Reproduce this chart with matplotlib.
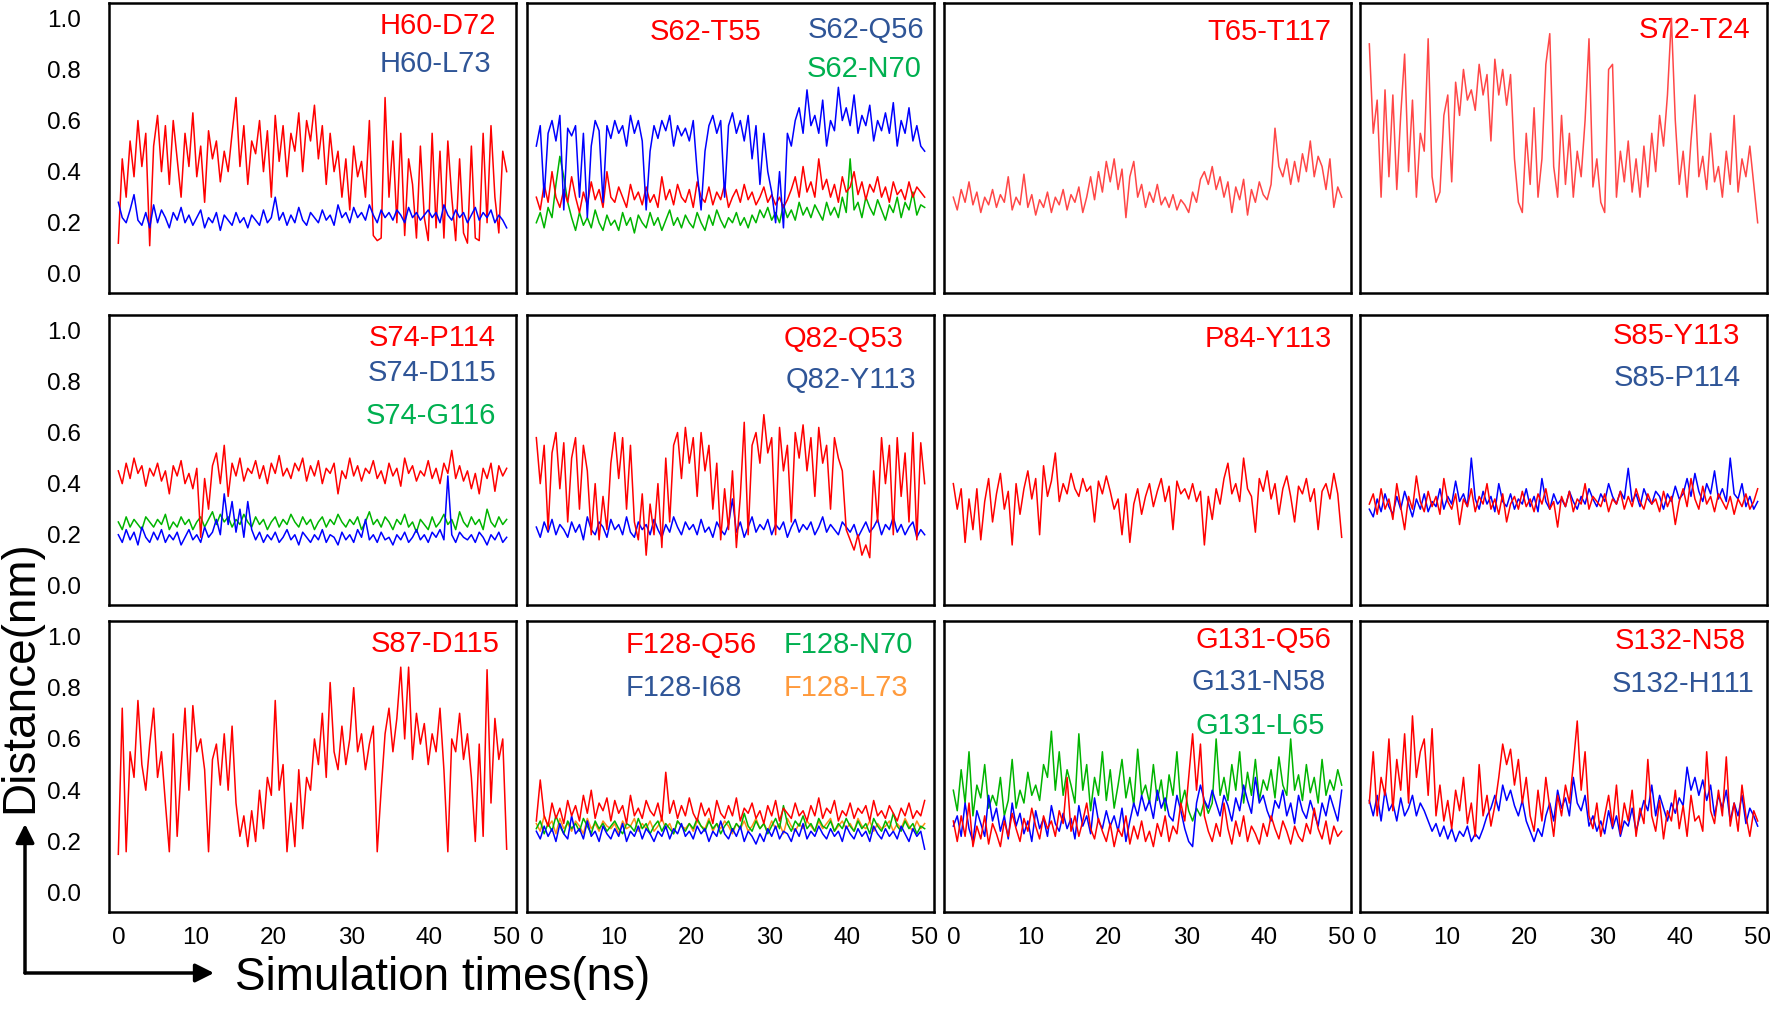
import numpy as np
import matplotlib
matplotlib.use("Agg")
import matplotlib.pyplot as plt
from matplotlib.patches import FancyArrowPatch
from matplotlib.transforms import IdentityTransform

plt.rcParams['font.family'] = ['Liberation Sans', 'DejaVu Sans']

# distances (nm) over 0-50 ns, 0.5 ns apart
h60_d72 = [0.12, 0.45, 0.30, 0.52, 0.38, 0.60, 0.42, 0.55, 0.11, 0.50,
           0.62, 0.40, 0.58, 0.35, 0.60, 0.45, 0.30, 0.55, 0.42, 0.63,
           0.38, 0.50, 0.28, 0.56, 0.45, 0.52, 0.36, 0.48, 0.40, 0.55,
           0.69, 0.42, 0.58, 0.35, 0.52, 0.47, 0.60, 0.40, 0.56, 0.30,
           0.62, 0.44, 0.58, 0.38, 0.55, 0.48, 0.63, 0.40, 0.60, 0.52,
           0.66, 0.45, 0.58, 0.35, 0.55, 0.40, 0.48, 0.30, 0.45, 0.25,
           0.50, 0.38, 0.44, 0.30, 0.60, 0.15, 0.13, 0.14, 0.69, 0.30,
           0.52, 0.20, 0.55, 0.15, 0.45, 0.35, 0.14, 0.50, 0.22, 0.13,
           0.55, 0.18, 0.48, 0.14, 0.52, 0.30, 0.13, 0.45, 0.16, 0.12,
           0.50, 0.14, 0.13, 0.55, 0.20, 0.58, 0.30, 0.16, 0.48, 0.40]
h60_l73 = [0.28, 0.22, 0.20, 0.25, 0.31, 0.21, 0.19, 0.24, 0.18, 0.27,
           0.20, 0.25, 0.22, 0.18, 0.24, 0.21, 0.26, 0.20, 0.23, 0.19,
           0.22, 0.25, 0.18, 0.22, 0.20, 0.24, 0.17, 0.23, 0.21, 0.19,
           0.24, 0.20, 0.22, 0.18, 0.23, 0.21, 0.19, 0.25, 0.20, 0.22,
           0.30, 0.21, 0.24, 0.19, 0.23, 0.20, 0.26, 0.21, 0.19, 0.24,
           0.22, 0.20, 0.25, 0.21, 0.23, 0.19, 0.27, 0.22, 0.24, 0.20,
           0.26, 0.22, 0.24, 0.21, 0.27, 0.23, 0.20, 0.25, 0.22, 0.24,
           0.21, 0.25, 0.23, 0.20, 0.26, 0.22, 0.24, 0.21, 0.23, 0.25,
           0.22, 0.24, 0.20, 0.27, 0.23, 0.21, 0.25, 0.22, 0.24, 0.20,
           0.23, 0.26, 0.21, 0.24, 0.22, 0.25, 0.20, 0.23, 0.21, 0.18]

s62_t55 = [0.30, 0.25, 0.35, 0.28, 0.40, 0.30, 0.26, 0.33, 0.28, 0.38,
           0.30, 0.24, 0.32, 0.27, 0.36, 0.29, 0.33, 0.26, 0.40, 0.30,
           0.28, 0.34, 0.30, 0.26, 0.35, 0.29, 0.32, 0.27, 0.34, 0.28,
           0.31, 0.26, 0.38, 0.29, 0.33, 0.27, 0.35, 0.30, 0.28, 0.33,
           0.26, 0.36, 0.30, 0.28, 0.34, 0.27, 0.32, 0.29, 0.35, 0.26,
           0.30, 0.33, 0.28, 0.35, 0.29, 0.32, 0.27, 0.30, 0.34, 0.28,
           0.31, 0.27, 0.30, 0.26, 0.29, 0.33, 0.38, 0.30, 0.42, 0.32,
           0.36, 0.30, 0.45, 0.33, 0.37, 0.30, 0.35, 0.28, 0.38, 0.32,
           0.34, 0.40, 0.31, 0.36, 0.29, 0.35, 0.32, 0.38, 0.30, 0.34,
           0.28, 0.36, 0.31, 0.33, 0.29, 0.36, 0.30, 0.34, 0.32, 0.30]
s62_q56 = [0.50, 0.58, 0.30, 0.55, 0.60, 0.52, 0.62, 0.25, 0.57, 0.54,
           0.58, 0.30, 0.55, 0.22, 0.50, 0.60, 0.56, 0.28, 0.58, 0.53,
           0.60, 0.55, 0.58, 0.50, 0.62, 0.55, 0.60, 0.52, 0.25, 0.48,
           0.58, 0.53, 0.60, 0.56, 0.62, 0.50, 0.58, 0.54, 0.57, 0.52,
           0.60, 0.40, 0.25, 0.48, 0.58, 0.62, 0.55, 0.60, 0.30, 0.58,
           0.63, 0.55, 0.60, 0.52, 0.62, 0.45, 0.58, 0.35, 0.55, 0.40,
           0.32, 0.20, 0.40, 0.18, 0.55, 0.50, 0.60, 0.65, 0.55, 0.72,
           0.58, 0.62, 0.55, 0.68, 0.50, 0.60, 0.56, 0.73, 0.60, 0.65,
           0.58, 0.70, 0.55, 0.62, 0.58, 0.66, 0.52, 0.60, 0.56, 0.63,
           0.55, 0.67, 0.50, 0.60, 0.55, 0.65, 0.52, 0.58, 0.50, 0.48]
s62_n70 = [0.20, 0.24, 0.18, 0.26, 0.22, 0.35, 0.46, 0.38, 0.28, 0.22,
           0.17, 0.24, 0.19, 0.22, 0.18, 0.25, 0.20, 0.17, 0.23, 0.19,
           0.21, 0.17, 0.24, 0.19, 0.22, 0.16, 0.23, 0.20, 0.18, 0.24,
           0.19, 0.22, 0.17, 0.21, 0.25, 0.19, 0.22, 0.18, 0.23, 0.20,
           0.18, 0.24, 0.20, 0.17, 0.23, 0.19, 0.25, 0.21, 0.18, 0.22,
           0.20, 0.24, 0.19, 0.22, 0.18, 0.23, 0.20, 0.25, 0.22, 0.26,
           0.21, 0.24, 0.20, 0.27, 0.22, 0.25, 0.21, 0.28, 0.23, 0.26,
           0.22, 0.27, 0.24, 0.21, 0.28, 0.23, 0.26, 0.22, 0.30, 0.24,
           0.45, 0.25, 0.28, 0.22, 0.30, 0.26, 0.23, 0.29, 0.25, 0.21,
           0.27, 0.24, 0.30, 0.22, 0.28, 0.25, 0.32, 0.23, 0.27, 0.26]

t65_t117 = [0.30, 0.25, 0.33, 0.28, 0.36, 0.27, 0.32, 0.24, 0.30, 0.27,
            0.33, 0.26, 0.31, 0.28, 0.38, 0.25, 0.30, 0.27, 0.39, 0.26,
            0.31, 0.23, 0.29, 0.26, 0.32, 0.24, 0.30, 0.27, 0.33, 0.25,
            0.31, 0.28, 0.34, 0.24, 0.30, 0.38, 0.29, 0.40, 0.32, 0.44,
            0.36, 0.45, 0.33, 0.41, 0.22, 0.38, 0.44, 0.30, 0.35, 0.26,
            0.32, 0.28, 0.35, 0.27, 0.30, 0.26, 0.31, 0.25, 0.29, 0.27,
            0.24, 0.32, 0.28, 0.37, 0.40, 0.35, 0.42, 0.33, 0.38, 0.30,
            0.36, 0.24, 0.34, 0.29, 0.37, 0.23, 0.33, 0.28, 0.36, 0.31,
            0.29, 0.35, 0.57, 0.42, 0.38, 0.45, 0.35, 0.44, 0.36, 0.47,
            0.40, 0.52, 0.38, 0.46, 0.42, 0.33, 0.45, 0.26, 0.34, 0.30]

s72_t24 = [0.90, 0.55, 0.68, 0.30, 0.72, 0.38, 0.70, 0.33, 0.62, 0.86,
           0.40, 0.68, 0.30, 0.55, 0.48, 0.92, 0.38, 0.28, 0.32, 0.62,
           0.70, 0.36, 0.75, 0.62, 0.80, 0.68, 0.72, 0.64, 0.82, 0.70,
           0.78, 0.52, 0.84, 0.70, 0.80, 0.66, 0.78, 0.45, 0.28, 0.24,
           0.55, 0.35, 0.65, 0.30, 0.45, 0.82, 0.94, 0.42, 0.30, 0.62,
           0.35, 0.55, 0.30, 0.48, 0.38, 0.60, 0.92, 0.34, 0.45, 0.28,
           0.24, 0.80, 0.82, 0.30, 0.48, 0.36, 0.52, 0.32, 0.45, 0.30,
           0.50, 0.34, 0.55, 0.40, 0.62, 0.50, 0.70, 1.00, 0.60, 0.35,
           0.48, 0.30, 0.52, 0.70, 0.38, 0.46, 0.33, 0.55, 0.36, 0.42,
           0.30, 0.48, 0.35, 0.62, 0.32, 0.45, 0.38, 0.50, 0.35, 0.20]

s74_p114 = [0.45, 0.40, 0.48, 0.42, 0.50, 0.44, 0.47, 0.39, 0.46, 0.43,
            0.48, 0.41, 0.45, 0.36, 0.47, 0.43, 0.49, 0.40, 0.44, 0.38,
            0.46, 0.19, 0.42, 0.30, 0.47, 0.52, 0.40, 0.55, 0.35, 0.48,
            0.43, 0.50, 0.41, 0.46, 0.44, 0.49, 0.42, 0.47, 0.40, 0.48,
            0.44, 0.51, 0.43, 0.46, 0.42, 0.48, 0.45, 0.50, 0.41, 0.47,
            0.43, 0.49, 0.40, 0.46, 0.44, 0.48, 0.36, 0.45, 0.42, 0.50,
            0.43, 0.47, 0.41, 0.46, 0.44, 0.49, 0.42, 0.45, 0.40, 0.48,
            0.43, 0.46, 0.39, 0.50, 0.44, 0.47, 0.41, 0.45, 0.43, 0.49,
            0.42, 0.46, 0.40, 0.48, 0.44, 0.53, 0.42, 0.47, 0.41, 0.45,
            0.38, 0.44, 0.36, 0.46, 0.42, 0.48, 0.37, 0.47, 0.43, 0.46]
s74_d115 = [0.20, 0.17, 0.22, 0.18, 0.21, 0.16, 0.23, 0.19, 0.17, 0.21,
            0.18, 0.22, 0.17, 0.20, 0.18, 0.21, 0.16, 0.19, 0.22, 0.18,
            0.20, 0.17, 0.23, 0.19, 0.21, 0.26, 0.20, 0.36, 0.24, 0.33,
            0.21, 0.30, 0.19, 0.33, 0.22, 0.18, 0.21, 0.17, 0.20, 0.18,
            0.21, 0.17, 0.19, 0.22, 0.18, 0.20, 0.16, 0.21, 0.19, 0.17,
            0.20, 0.18, 0.22, 0.17, 0.20, 0.19, 0.16, 0.21, 0.18, 0.20,
            0.17, 0.22, 0.19, 0.26, 0.18, 0.20, 0.17, 0.21, 0.18, 0.19,
            0.16, 0.20, 0.18, 0.21, 0.17, 0.19, 0.22, 0.18, 0.20, 0.17,
            0.21, 0.19, 0.22, 0.18, 0.43, 0.20, 0.17, 0.21, 0.19, 0.18,
            0.20, 0.17, 0.21, 0.19, 0.16, 0.20, 0.18, 0.21, 0.17, 0.19]
s74_g116 = [0.25, 0.22, 0.27, 0.23, 0.26, 0.24, 0.22, 0.27, 0.25, 0.23,
            0.26, 0.24, 0.28, 0.22, 0.25, 0.23, 0.27, 0.24, 0.26, 0.22,
            0.25, 0.27, 0.23, 0.26, 0.29, 0.24, 0.28, 0.25, 0.27, 0.23,
            0.26, 0.24, 0.28, 0.25, 0.23, 0.27, 0.24, 0.26, 0.22, 0.25,
            0.27, 0.23, 0.26, 0.24, 0.28, 0.25, 0.23, 0.27, 0.24, 0.26,
            0.22, 0.25, 0.27, 0.23, 0.26, 0.24, 0.28, 0.25, 0.23, 0.26,
            0.24, 0.27, 0.22, 0.25, 0.29, 0.24, 0.26, 0.23, 0.27, 0.25,
            0.22, 0.26, 0.24, 0.28, 0.23, 0.25, 0.21, 0.26, 0.24, 0.22,
            0.27, 0.23, 0.25, 0.28, 0.24, 0.26, 0.22, 0.29, 0.25, 0.23,
            0.27, 0.24, 0.26, 0.22, 0.30, 0.25, 0.23, 0.27, 0.24, 0.26]

q82_q53 = [0.58, 0.40, 0.55, 0.22, 0.52, 0.60, 0.38, 0.56, 0.25, 0.50,
           0.58, 0.30, 0.55, 0.45, 0.20, 0.40, 0.18, 0.35, 0.22, 0.48,
           0.60, 0.42, 0.58, 0.30, 0.55, 0.25, 0.18, 0.36, 0.12, 0.32,
           0.20, 0.40, 0.15, 0.50, 0.25, 0.55, 0.60, 0.42, 0.62, 0.48,
           0.58, 0.35, 0.60, 0.45, 0.55, 0.30, 0.48, 0.18, 0.38, 0.22,
           0.45, 0.15, 0.35, 0.64, 0.20, 0.55, 0.60, 0.48, 0.67, 0.52,
           0.58, 0.20, 0.62, 0.45, 0.55, 0.25, 0.60, 0.50, 0.63, 0.45,
           0.58, 0.35, 0.62, 0.48, 0.55, 0.30, 0.58, 0.50, 0.45, 0.22,
           0.18, 0.14, 0.20, 0.12, 0.16, 0.11, 0.45, 0.25, 0.58, 0.40,
           0.55, 0.20, 0.58, 0.35, 0.52, 0.25, 0.60, 0.18, 0.56, 0.40]
q82_y113 = [0.23, 0.19, 0.25, 0.21, 0.26, 0.20, 0.24, 0.22, 0.19, 0.25,
            0.21, 0.24, 0.18, 0.27, 0.22, 0.20, 0.25, 0.23, 0.19, 0.26,
            0.22, 0.24, 0.20, 0.27, 0.21, 0.19, 0.25, 0.22, 0.24, 0.20,
            0.26, 0.22, 0.19, 0.24, 0.21, 0.27, 0.23, 0.20, 0.25, 0.22,
            0.24, 0.20, 0.26, 0.21, 0.23, 0.19, 0.25, 0.22, 0.20, 0.24,
            0.34, 0.21, 0.25, 0.19, 0.23, 0.27, 0.21, 0.24, 0.22, 0.26,
            0.20, 0.24, 0.22, 0.25, 0.19, 0.23, 0.26, 0.21, 0.24, 0.22,
            0.25, 0.20, 0.23, 0.27, 0.21, 0.24, 0.22, 0.20, 0.25, 0.23,
            0.21, 0.24, 0.19, 0.22, 0.25, 0.21, 0.23, 0.26, 0.20, 0.24,
            0.22, 0.27, 0.21, 0.24, 0.20, 0.23, 0.25, 0.19, 0.22, 0.20]

p84_y113 = [0.40, 0.30, 0.38, 0.17, 0.34, 0.22, 0.38, 0.18, 0.33, 0.42,
            0.25, 0.36, 0.44, 0.30, 0.37, 0.16, 0.40, 0.28, 0.38, 0.45,
            0.34, 0.42, 0.20, 0.47, 0.35, 0.41, 0.52, 0.33, 0.40, 0.36,
            0.44, 0.38, 0.35, 0.42, 0.37, 0.39, 0.25, 0.41, 0.36, 0.43,
            0.37, 0.30, 0.34, 0.20, 0.36, 0.17, 0.32, 0.38, 0.28, 0.35,
            0.40, 0.31, 0.37, 0.42, 0.33, 0.39, 0.22, 0.41, 0.36, 0.38,
            0.34, 0.40, 0.33, 0.37, 0.16, 0.35, 0.26, 0.38, 0.32, 0.42,
            0.48, 0.36, 0.40, 0.33, 0.50, 0.38, 0.35, 0.21, 0.42, 0.37,
            0.45, 0.34, 0.40, 0.28, 0.38, 0.43, 0.35, 0.25, 0.39, 0.36,
            0.42, 0.33, 0.38, 0.22, 0.37, 0.40, 0.34, 0.44, 0.36, 0.19]

s85_y113 = [0.32, 0.36, 0.28, 0.38, 0.30, 0.34, 0.26, 0.40, 0.31, 0.22,
            0.35, 0.30, 0.43, 0.33, 0.29, 0.37, 0.31, 0.35, 0.28, 0.42,
            0.33, 0.30, 0.36, 0.24, 0.34, 0.31, 0.38, 0.29, 0.35, 0.32,
            0.40, 0.30, 0.34, 0.28, 0.36, 0.25, 0.32, 0.35, 0.30, 0.37,
            0.31, 0.34, 0.29, 0.36, 0.32, 0.38, 0.30, 0.33, 0.23, 0.35,
            0.31, 0.37, 0.29, 0.34, 0.32, 0.40, 0.30, 0.35, 0.33, 0.31,
            0.36, 0.29, 0.34, 0.32, 0.37, 0.30, 0.35, 0.31, 0.38, 0.33,
            0.30, 0.36, 0.32, 0.34, 0.29, 0.37, 0.31, 0.35, 0.24, 0.33,
            0.38, 0.31, 0.42, 0.34, 0.30, 0.39, 0.32, 0.35, 0.29, 0.36,
            0.33, 0.30, 0.35, 0.28, 0.34, 0.31, 0.36, 0.30, 0.33, 0.38]
s85_p114 = [0.30, 0.27, 0.34, 0.29, 0.36, 0.31, 0.28, 0.35, 0.30, 0.37,
            0.32, 0.27, 0.34, 0.30, 0.36, 0.29, 0.33, 0.31, 0.38, 0.30,
            0.35, 0.32, 0.41, 0.33, 0.36, 0.31, 0.50, 0.34, 0.30, 0.37,
            0.32, 0.35, 0.29, 0.40, 0.33, 0.31, 0.36, 0.30, 0.34, 0.32,
            0.38, 0.31, 0.35, 0.29, 0.42, 0.33, 0.30, 0.36, 0.32, 0.34,
            0.31, 0.37, 0.33, 0.30, 0.35, 0.32, 0.38, 0.34, 0.31, 0.36,
            0.33, 0.40, 0.35, 0.32, 0.37, 0.34, 0.46, 0.33, 0.36, 0.31,
            0.38, 0.34, 0.32, 0.37, 0.35, 0.30, 0.36, 0.33, 0.39, 0.34,
            0.36, 0.42, 0.35, 0.44, 0.37, 0.33, 0.40, 0.36, 0.45, 0.34,
            0.38, 0.33, 0.50, 0.36, 0.34, 0.40, 0.31, 0.35, 0.30, 0.33]

s87_d115 = [0.15, 0.72, 0.16, 0.55, 0.45, 0.75, 0.50, 0.40, 0.58, 0.72,
            0.45, 0.55, 0.35, 0.16, 0.62, 0.22, 0.48, 0.72, 0.40, 0.73,
            0.55, 0.60, 0.48, 0.16, 0.52, 0.58, 0.42, 0.62, 0.40, 0.65,
            0.35, 0.22, 0.30, 0.18, 0.32, 0.20, 0.40, 0.25, 0.45, 0.38,
            0.75, 0.40, 0.50, 0.16, 0.35, 0.18, 0.48, 0.25, 0.45, 0.40,
            0.60, 0.50, 0.70, 0.45, 0.82, 0.55, 0.48, 0.65, 0.50, 0.60,
            0.80, 0.55, 0.62, 0.48, 0.58, 0.65, 0.16, 0.40, 0.62, 0.72,
            0.55, 0.68, 0.88, 0.60, 0.88, 0.52, 0.70, 0.58, 0.66, 0.50,
            0.62, 0.55, 0.72, 0.48, 0.16, 0.60, 0.55, 0.70, 0.52, 0.62,
            0.45, 0.20, 0.58, 0.22, 0.87, 0.35, 0.68, 0.52, 0.60, 0.17]

f128_q56 = [0.28, 0.44, 0.30, 0.26, 0.35, 0.29, 0.33, 0.27, 0.36, 0.30,
            0.34, 0.28, 0.38, 0.31, 0.40, 0.29, 0.35, 0.32, 0.37, 0.28,
            0.36, 0.31, 0.34, 0.27, 0.38, 0.30, 0.33, 0.29, 0.36, 0.32,
            0.30, 0.35, 0.28, 0.47, 0.31, 0.36, 0.29, 0.34, 0.30, 0.37,
            0.31, 0.28, 0.35, 0.30, 0.33, 0.27, 0.36, 0.31, 0.29, 0.34,
            0.30, 0.37, 0.28, 0.33, 0.31, 0.35, 0.29, 0.32, 0.27, 0.34,
            0.30, 0.36, 0.28, 0.33, 0.31, 0.29, 0.35, 0.30, 0.32, 0.28,
            0.34, 0.30, 0.37, 0.29, 0.33, 0.31, 0.36, 0.28, 0.32, 0.30,
            0.35, 0.29, 0.33, 0.31, 0.34, 0.28, 0.36, 0.30, 0.32, 0.29,
            0.34, 0.31, 0.28, 0.33, 0.30, 0.35, 0.29, 0.32, 0.30, 0.36]
f128_n70 = [0.25, 0.28, 0.23, 0.27, 0.24, 0.30, 0.26, 0.23, 0.28, 0.25,
            0.27, 0.24, 0.29, 0.26, 0.23, 0.28, 0.25, 0.27, 0.24, 0.26,
            0.28, 0.25, 0.23, 0.27, 0.26, 0.24, 0.29, 0.25, 0.27, 0.23,
            0.26, 0.28, 0.24, 0.27, 0.25, 0.23, 0.28, 0.26, 0.24, 0.27,
            0.25, 0.29, 0.26, 0.24, 0.28, 0.25, 0.27, 0.23, 0.26, 0.28,
            0.24, 0.27, 0.25, 0.31, 0.26, 0.24, 0.28, 0.25, 0.27, 0.23,
            0.26, 0.29, 0.25, 0.34, 0.27, 0.24, 0.28, 0.26, 0.30, 0.25,
            0.27, 0.24, 0.29, 0.26, 0.25, 0.28, 0.24, 0.27, 0.25, 0.29,
            0.26, 0.24, 0.28, 0.25, 0.27, 0.23, 0.29, 0.26, 0.24, 0.28,
            0.25, 0.31, 0.26, 0.24, 0.28, 0.25, 0.27, 0.23, 0.26, 0.25]
f128_l73 = [0.27, 0.24, 0.30, 0.26, 0.28, 0.23, 0.29, 0.25, 0.27, 0.24,
            0.28, 0.26, 0.23, 0.29, 0.25, 0.27, 0.24, 0.28, 0.26, 0.25,
            0.27, 0.23, 0.28, 0.25, 0.26, 0.29, 0.24, 0.27, 0.25, 0.28,
            0.24, 0.26, 0.29, 0.25, 0.27, 0.23, 0.28, 0.26, 0.25, 0.27,
            0.24, 0.28, 0.26, 0.25, 0.29, 0.24, 0.27, 0.25, 0.28, 0.26,
            0.23, 0.27, 0.25, 0.28, 0.24, 0.26, 0.29, 0.25, 0.27, 0.24,
            0.28, 0.25, 0.27, 0.23, 0.29, 0.26, 0.24, 0.27, 0.25, 0.28,
            0.26, 0.24, 0.28, 0.25, 0.27, 0.29, 0.24, 0.26, 0.28, 0.25,
            0.27, 0.24, 0.29, 0.26, 0.25, 0.28, 0.24, 0.27, 0.25, 0.26,
            0.28, 0.24, 0.27, 0.25, 0.29, 0.26, 0.24, 0.28, 0.25, 0.27]
f128_i68 = [0.24, 0.21, 0.26, 0.22, 0.25, 0.20, 0.27, 0.23, 0.21, 0.30,
            0.23, 0.25, 0.21, 0.28, 0.22, 0.24, 0.20, 0.26, 0.23, 0.21,
            0.25, 0.22, 0.27, 0.20, 0.24, 0.22, 0.26, 0.21, 0.25, 0.23,
            0.20, 0.24, 0.22, 0.26, 0.21, 0.25, 0.23, 0.27, 0.22, 0.24,
            0.21, 0.26, 0.23, 0.25, 0.20, 0.24, 0.22, 0.28, 0.23, 0.21,
            0.25, 0.22, 0.26, 0.20, 0.24, 0.22, 0.19, 0.23, 0.20, 0.25,
            0.22, 0.26, 0.21, 0.24, 0.23, 0.20, 0.25, 0.22, 0.27, 0.21,
            0.24, 0.22, 0.26, 0.23, 0.21, 0.25, 0.22, 0.24, 0.20, 0.26,
            0.23, 0.21, 0.25, 0.22, 0.24, 0.20, 0.26, 0.23, 0.21, 0.25,
            0.22, 0.24, 0.21, 0.26, 0.23, 0.20, 0.25, 0.22, 0.24, 0.17]

g131_q56 = [0.28, 0.20, 0.30, 0.22, 0.35, 0.18, 0.26, 0.21, 0.30, 0.19,
            0.27, 0.23, 0.18, 0.28, 0.22, 0.31, 0.25, 0.20, 0.29, 0.24,
            0.33, 0.26, 0.21, 0.30, 0.25, 0.28, 0.22, 0.32, 0.27, 0.45,
            0.24, 0.30, 0.22, 0.28, 0.35, 0.25, 0.21, 0.29, 0.24, 0.20,
            0.27, 0.18, 0.25, 0.22, 0.30, 0.19, 0.26, 0.21, 0.28, 0.20,
            0.24, 0.18, 0.27, 0.22, 0.30, 0.20, 0.26, 0.23, 0.35, 0.28,
            0.45, 0.62, 0.40, 0.58, 0.30, 0.24, 0.20, 0.27, 0.22, 0.35,
            0.25, 0.19, 0.28, 0.22, 0.30, 0.20, 0.26, 0.23, 0.19, 0.27,
            0.22, 0.30, 0.25, 0.21, 0.28, 0.24, 0.19, 0.26, 0.22, 0.20,
            0.27, 0.23, 0.33, 0.25, 0.21, 0.28, 0.19, 0.26, 0.22, 0.24]
g131_n58 = [0.26, 0.30, 0.22, 0.35, 0.25, 0.20, 0.32, 0.27, 0.22, 0.38,
            0.28, 0.33, 0.24, 0.30, 0.21, 0.35, 0.26, 0.31, 0.23, 0.28,
            0.20, 0.32, 0.25, 0.29, 0.22, 0.34, 0.27, 0.24, 0.31, 0.25,
            0.29, 0.21, 0.34, 0.26, 0.30, 0.23, 0.37, 0.28, 0.25, 0.32,
            0.26, 0.30, 0.24, 0.33, 0.20, 0.28, 0.35, 0.30, 0.38, 0.32,
            0.36, 0.29, 0.40, 0.33, 0.37, 0.30, 0.28, 0.38, 0.32, 0.25,
            0.20, 0.18, 0.35, 0.42, 0.36, 0.33, 0.40, 0.35, 0.30, 0.38,
            0.34, 0.28, 0.37, 0.32, 0.42, 0.36, 0.31, 0.45, 0.35, 0.38,
            0.32, 0.28, 0.36, 0.33, 0.40, 0.30, 0.35, 0.27, 0.38, 0.32,
            0.29, 0.36, 0.31, 0.26, 0.35, 0.30, 0.38, 0.33, 0.28, 0.40]
g131_l65 = [0.40, 0.32, 0.48, 0.35, 0.55, 0.30, 0.42, 0.37, 0.50, 0.33,
            0.38, 0.34, 0.45, 0.30, 0.36, 0.52, 0.33, 0.40, 0.35, 0.47,
            0.38, 0.42, 0.36, 0.50, 0.45, 0.63, 0.40, 0.55, 0.38, 0.48,
            0.42, 0.35, 0.62, 0.40, 0.50, 0.32, 0.45, 0.38, 0.55, 0.36,
            0.48, 0.33, 0.42, 0.52, 0.37, 0.45, 0.34, 0.56, 0.38, 0.42,
            0.35, 0.50, 0.36, 0.44, 0.32, 0.46, 0.38, 0.55, 0.34, 0.40,
            0.32, 0.28, 0.33, 0.30, 0.36, 0.31, 0.35, 0.60, 0.38, 0.45,
            0.36, 0.50, 0.40, 0.55, 0.35, 0.47, 0.38, 0.52, 0.36, 0.44,
            0.40, 0.48, 0.37, 0.53, 0.42, 0.38, 0.60, 0.40, 0.46, 0.36,
            0.50, 0.39, 0.45, 0.35, 0.52, 0.38, 0.44, 0.40, 0.48, 0.42]

s132_n58 = [0.35, 0.55, 0.30, 0.45, 0.38, 0.60, 0.32, 0.52, 0.40, 0.62,
            0.35, 0.69, 0.45, 0.55, 0.60, 0.38, 0.64, 0.30, 0.42, 0.28,
            0.36, 0.25, 0.40, 0.32, 0.45, 0.27, 0.35, 0.22, 0.50, 0.30,
            0.38, 0.26, 0.34, 0.45, 0.58, 0.50, 0.56, 0.42, 0.52, 0.35,
            0.45, 0.30, 0.24, 0.40, 0.28, 0.45, 0.33, 0.22, 0.38, 0.30,
            0.42, 0.35, 0.50, 0.67, 0.40, 0.55, 0.30, 0.25, 0.35, 0.22,
            0.30, 0.38, 0.26, 0.42, 0.23, 0.35, 0.28, 0.40, 0.22, 0.33,
            0.27, 0.52, 0.30, 0.24, 0.36, 0.21, 0.32, 0.28, 0.40, 0.25,
            0.34, 0.22, 0.38, 0.28, 0.30, 0.24, 0.55, 0.32, 0.27, 0.40,
            0.30, 0.53, 0.26, 0.35, 0.24, 0.42, 0.30, 0.22, 0.32, 0.28]
s132_h111 = [0.36, 0.30, 0.38, 0.28, 0.40, 0.32, 0.35, 0.28, 0.37, 0.30,
             0.33, 0.38, 0.30, 0.35, 0.32, 0.28, 0.24, 0.27, 0.22, 0.26,
             0.21, 0.25, 0.20, 0.24, 0.22, 0.26, 0.20, 0.23, 0.21, 0.25,
             0.30, 0.33, 0.38, 0.32, 0.42, 0.36, 0.40, 0.34, 0.30, 0.36,
             0.28, 0.24, 0.20, 0.25, 0.22, 0.30, 0.35, 0.28, 0.40, 0.33,
             0.37, 0.30, 0.45, 0.35, 0.32, 0.38, 0.26, 0.30, 0.24, 0.28,
             0.23, 0.32, 0.25, 0.30, 0.22, 0.28, 0.26, 0.33, 0.24, 0.30,
             0.36, 0.32, 0.42, 0.30, 0.38, 0.33, 0.28, 0.35, 0.31, 0.37,
             0.34, 0.49, 0.40, 0.45, 0.38, 0.44, 0.36, 0.42, 0.30, 0.38,
             0.33, 0.40, 0.28, 0.35, 0.30, 0.38, 0.27, 0.33, 0.30, 0.26]

RED, BLUE, GREEN, ORANGE, PINK = "#ff0000", "#0000ff", "#00b400", "#ff8c1a", "#ff4747"
T_RED, T_BLUE, T_GREEN, T_ORANGE = "#ff0000", "#2f5597", "#00b050", "#ff9a3c"

# each panel: list of (series, line colour) in drawing order, then labels
panels = [
    ([(h60_d72, RED), (h60_l73, BLUE)],
     [("H60-D72", T_RED, 0.952, 0.92, "right"), ("H60-L73", T_BLUE, 0.94, 0.79, "right")]),
    ([(s62_n70, GREEN), (s62_t55, RED), (s62_q56, BLUE)],
     [("S62-T55", T_RED, 0.577, 0.90, "right"), ("S62-Q56", T_BLUE, 0.975, 0.906, "right"),
      ("S62-N70", T_GREEN, 0.97, 0.774, "right")]),
    ([(t65_t117, PINK)], [("T65-T117", T_RED, 0.952, 0.90, "right")]),
    ([(s72_t24, PINK)], [("S72-T24", T_RED, 0.96, 0.906, "right")]),
    ([(s74_g116, GREEN), (s74_d115, BLUE), (s74_p114, RED)],
     [("S74-P114", T_RED, 0.951, 0.92, "right"), ("S74-D115", T_BLUE, 0.951, 0.80, "right"),
      ("S74-G116", T_GREEN, 0.951, 0.65, "right")]),
    ([(q82_y113, BLUE), (q82_q53, RED)],
     [("Q82-Q53", T_RED, 0.925, 0.916, "right"), ("Q82-Y113", T_BLUE, 0.957, 0.777, "right")]),
    ([(p84_y113, RED)], [("P84-Y113", T_RED, 0.952, 0.916, "right")]),
    ([(s85_p114, BLUE), (s85_y113, RED)],
     [("S85-Y113", T_RED, 0.935, 0.927, "right"), ("S85-P114", T_BLUE, 0.935, 0.783, "right")]),
    ([(s87_d115, RED)], [("S87-D115", T_RED, 0.96, 0.922, "right")]),
    ([(f128_l73, ORANGE), (f128_n70, GREEN), (f128_i68, BLUE), (f128_q56, RED)],
     [("F128-Q56", T_RED, 0.243, 0.916, "left"), ("F128-N70", T_GREEN, 0.63, 0.916, "left"),
      ("F128-I68", T_BLUE, 0.243, 0.77, "left"), ("F128-L73", T_ORANGE, 0.63, 0.77, "left")]),
    ([(g131_l65, GREEN), (g131_n58, BLUE), (g131_q56, RED)],
     [("G131-Q56", T_RED, 0.952, 0.934, "right"), ("G131-N58", T_BLUE, 0.937, 0.79, "right"),
      ("G131-L65", T_GREEN, 0.935, 0.64, "right")]),
    ([(s132_h111, BLUE), (s132_n58, RED)],
     [("S132-N58", T_RED, 0.947, 0.93, "right"), ("S132-H111", T_BLUE, 0.968, 0.785, "right")]),
]

W, H = 1770, 1009
fig = plt.figure(figsize=(W / 100, H / 100), dpi=100)

col_x = [(109, 516), (527, 934), (944, 1351), (1360, 1767)]
row_y = [(3, 293), (315, 605), (621, 912)]

for i, (series, labels) in enumerate(panels):
    r, c = divmod(i, 4)
    x0, x1 = col_x[c]
    y0, y1 = row_y[r]
    ax = fig.add_axes([x0 / W, 1 - y1 / H, (x1 - x0) / W, (y1 - y0) / H])
    for vals, col in series:
        t = np.linspace(0, 50, len(vals))
        ax.plot(t, vals, color=col, lw=1.1)
    for txt, col, tx, ty, ha in labels:
        ax.text(tx, ty, txt, color=col, fontsize=21, ha=ha, va="center",
                transform=ax.transAxes, zorder=0)
    ax.set_xlim(-1.2, 51.2)
    ax.set_ylim(-0.075, 1.06)
    ax.set_xticks([0, 10, 20, 30, 40, 50])
    ax.set_yticks([0.0, 0.2, 0.4, 0.6, 0.8, 1.0])
    ax.tick_params(axis="x", length=0, labelsize=17.5, pad=11)
    ax.tick_params(axis="y", length=0, labelsize=17.5, pad=20)
    ax.yaxis.set_major_formatter(matplotlib.ticker.FormatStrFormatter("%.1f"))
    if c != 0:
        ax.set_yticklabels([])
    if r != 2:
        ax.set_xticklabels([])
    for s in ax.spines.values():
        s.set_linewidth(1.8)
    ax.set_zorder(1)

fig.text(20 / W, 1 - 677 / H, "Distance(nm)", rotation=90, fontsize=33,
         ha="center", va="center")
fig.text(235 / W, 1 - 978 / H, "Simulation times(ns)", fontsize=33,
         ha="left", va="center")

arrow = dict(arrowstyle="-|>", lw=2.5, color="black", mutation_scale=28,
             shrinkA=0, shrinkB=0, transform=IdentityTransform())
fig.add_artist(FancyArrowPatch((25, H - 973), (214, H - 973), **arrow))
fig.add_artist(FancyArrowPatch((25, H - 973), (25, H - 824), **arrow))

fig.savefig("out.png", dpi=100)
